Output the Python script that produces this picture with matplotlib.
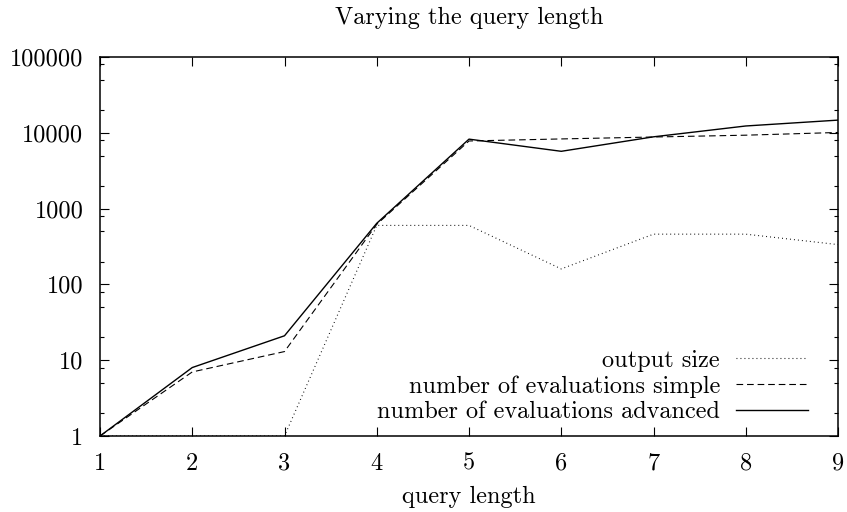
import matplotlib
matplotlib.use("Agg")
import matplotlib.pyplot as plt
from matplotlib.ticker import FixedLocator, NullFormatter, LogLocator

plt.rcParams['font.family'] = ['cmr10', 'DejaVu Serif']
plt.rcParams['mathtext.fontset'] = 'cm'
plt.rcParams['axes.formatter.use_mathtext'] = True

query_length = [1, 2, 3, 4, 5, 6, 7, 8, 9]
output_size = [1, 1, 1, 600, 600, 160, 460, 460, 335]
evals_simple = [1, 7, 13, 620, 7800, 8300, 8800, 9300, 10100]
evals_advanced = [1, 8, 21, 640, 8250, 5700, 8850, 12300, 14700]

x_ticks = [1, 2, 3, 4, 5, 6, 7, 8, 9]
y_ticks = [1, 10, 100, 1000, 10000, 100000]
y_tick_labels = ["1", "10", "100", "1000", "10000", "100000"]

FS = 17.5

fig = plt.figure(figsize=(8.47, 5.12), dpi=100)
ax = fig.add_axes([100/847, 1-436/512, (838-100)/847, (436-57)/512])

lw = 0.8
ax.plot(query_length, output_size, color='black', lw=lw, dashes=(0.8, 2.8),
        label='output size')
ax.plot(query_length, evals_simple, color='black', lw=lw, dashes=(6, 3.5),
        label='number of evaluations simple')
ax.plot(query_length, evals_advanced, color='black', lw=1.0,
        label='number of evaluations advanced')

ax.set_yscale('log')
ax.set_xlim(1, 9)
ax.set_ylim(1, 100000)
ax.set_xticks(x_ticks)
ax.set_xticklabels([str(v) for v in x_ticks])
ax.yaxis.set_major_locator(FixedLocator(y_ticks))
ax.set_yticklabels(y_tick_labels)
ax.yaxis.set_minor_locator(LogLocator(base=10, subs=(2, 5, 8), numticks=20))
ax.yaxis.set_minor_formatter(NullFormatter())

ax.tick_params(which='both', direction='in', top=True, right=True, labelsize=FS,
               width=0.8, pad=12)
ax.tick_params(which='major', length=6.5)
ax.tick_params(which='minor', length=3.2)
for s in ax.spines.values():
    s.set_linewidth(1.1)
    s.set_zorder(3)

ax.set_title('Varying the query length', fontsize=FS, pad=24)
ax.set_xlabel('query length', fontsize=FS, labelpad=8)

leg = ax.legend(loc='lower right', markerfirst=False, frameon=False, fontsize=FS,
                handlelength=2.95, labelspacing=0.14, handletextpad=0.66,
                borderpad=0, borderaxespad=0,
                bbox_to_anchor=(0.959, 0.034))

fig.savefig('out.png', dpi=100)
